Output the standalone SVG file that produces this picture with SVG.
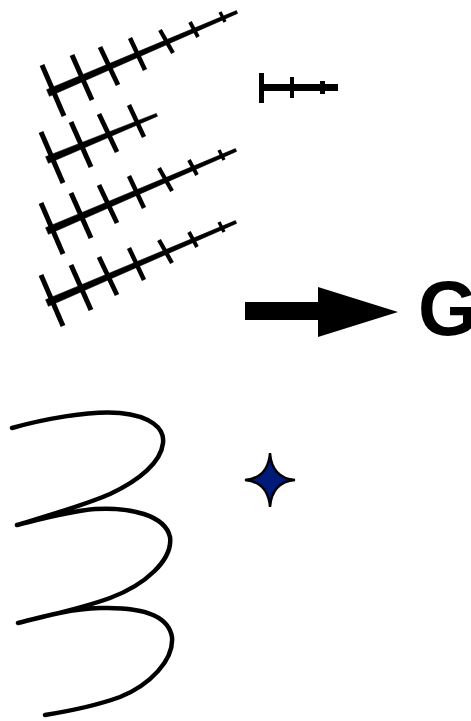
<svg xmlns="http://www.w3.org/2000/svg" width="471" height="721" viewBox="0 0 471 721" xmlns:xlink="http://www.w3.org/1999/xlink">
  <style>
    .tk { stroke: #000; stroke-linecap: butt; fill: none; }
    .main { fill: #000; stroke: #000; stroke-width: 0.6; }
    .ln { stroke: #000; fill: none; stroke-linecap: round; stroke-linejoin: round; }
  </style>
  <defs>
    <g id="ticks4">
      <line class="tk" x1="42" y1="65" x2="64" y2="116" stroke-width="5"/>
      <line class="tk" x1="72" y1="55" x2="92" y2="100" stroke-width="5"/>
      <line class="tk" x1="100" y1="47" x2="118" y2="85" stroke-width="4.8"/>
      <line class="tk" x1="130" y1="38" x2="145" y2="70" stroke-width="4.5"/>
    </g>
    <g id="fishFull">
      <polygon class="main" points="49.4,96.3 237.6,13.4 236.4,10.6 46.6,89.7"/>
      <use xlink:href="#ticks4"/>
      <line class="tk" x1="160" y1="30" x2="173" y2="53" stroke-width="4.2"/>
      <line class="tk" x1="190" y1="22" x2="198" y2="37" stroke-width="3.8"/>
      <line class="tk" x1="220" y1="12" x2="225" y2="22" stroke-width="3.4"/>
    </g>
  </defs>

  <g id="fishbone-1">
    <use xlink:href="#fishFull"/>
  </g>
  <g id="fishbone-2" transform="translate(-1,67)">
    <polygon class="main" points="49.4,96.3 158.5,49.2 157.3,46.4 46.6,89.7"/>
    <use xlink:href="#ticks4"/>
  </g>
  <g id="fishbone-3" transform="translate(-1,138)">
    <use xlink:href="#fishFull"/>
  </g>
  <g id="fishbone-4" transform="translate(-1,210)">
    <use xlink:href="#fishFull"/>
  </g>

  <g id="small-arrow">
    <rect x="260" y="84" width="78" height="7" fill="#000"/>
    <rect x="259" y="73" width="5" height="30" fill="#000"/>
    <rect x="290" y="77" width="4" height="21" fill="#000"/>
    <rect x="320" y="81" width="5" height="13" fill="#000"/>
  </g>

  <g id="big-arrow">
    <polygon points="245,302 318,302 318,287 398,312 318,337 318,320 245,320" fill="#000"/>
  </g>

  <g id="label-G">
    <text x="418" y="335" font-family="Liberation Sans, Arial, sans-serif" font-weight="bold" font-size="77" fill="#000">G</text>
  </g>

  <g id="spiral">
    <path class="ln" stroke-width="4.5" d="M12,428 C40,420 90,410 120,413 C150,416 165,428 163,443 C161,462 140,480 110,494 C85,505 50,515 17,525 C45,518 70,511 95,509 C130,507 165,515 170,537 C173,560 145,585 110,598 C80,609 45,616 18,623 C45,616 70,609 100,608 C135,607 168,612 172,637 C174,660 150,685 120,697 C95,706 70,711 45,715"/>
  </g>

  <g id="star">
    <path d="M270,453 Q272,478 295,480 Q272,482 270,507 Q268,482 245,480 Q268,478 270,453 Z" fill="#001a7a" stroke="#000" stroke-width="2.4" stroke-linejoin="miter"/>
  </g>
</svg>
